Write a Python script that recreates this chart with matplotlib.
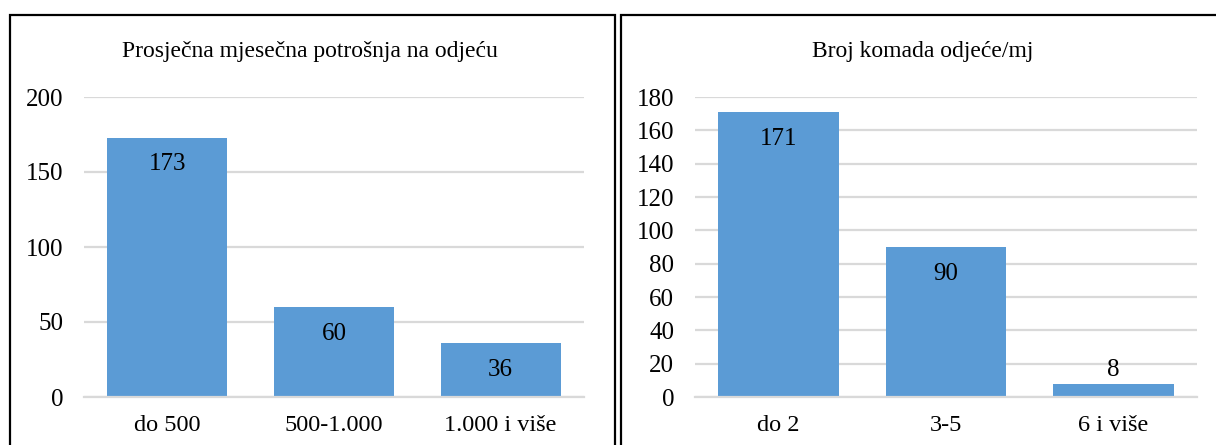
import matplotlib
matplotlib.use("Agg")
import numpy as np
from matplotlib import pyplot as plt
from matplotlib.patches import Rectangle

# left chart: average monthly spending on clothes
spend_categories = ["do 500", "500-1.000", "1.000 i više"]
spend_values = [173, 60, 36]
spend_title = "Prosječna mjesečna potrošnja na odjeću"
spend_yticks = [0, 50, 100, 150, 200]

# right chart: pieces of clothing per month
pieces_categories = ["do 2", "3-5", "6 i više"]
pieces_values = [171, 90, 8]
pieces_title = "Broj komada odjeće/mj"
pieces_yticks = [0, 20, 40, 60, 80, 100, 120, 140, 160, 180]

BAR_COLOR = "#5B9BD5"
GRID_COLOR = "#D9D9D9"
W, H = 1216, 445

plt.rcParams["font.family"] = ["Liberation Serif", "DejaVu Serif"]

fig = plt.figure(figsize=(W / 100, H / 100), dpi=100)

def px_axes(x0, x1, y_top, y_bottom):
    return fig.add_axes([x0 / W, 1 - y_bottom / H, (x1 - x0) / W, (y_bottom - y_top) / H])

def draw_panel(ax, categories, values, title, yticks, title_x, inside_min):
    x = np.arange(len(categories))
    ax.bar(x, values, width=0.72, color=BAR_COLOR, zorder=2)
    ax.set_xlim(-0.5, len(categories) - 0.5)
    ax.set_ylim(yticks[0], yticks[-1])
    ax.set_yticks(yticks)
    ax.set_xticks(x)
    ax.set_xticklabels(categories)
    ax.tick_params(axis="both", length=0, labelsize=18, colors="black")
    ax.tick_params(axis="x", pad=13, labelsize=17.5)
    ax.tick_params(axis="y", pad=15)
    ax.grid(axis="y", color=GRID_COLOR, linewidth=1.6, zorder=0)
    ax.set_axisbelow(True)
    for side in ["top", "right", "left"]:
        ax.spines[side].set_visible(False)
    ax.spines["bottom"].set_color(GRID_COLOR)
    ax.spines["bottom"].set_linewidth(1.6)
    for xi, v in zip(x, values):
        if v >= inside_min:
            ax.annotate(str(v), (xi, v), xytext=(0, -27), textcoords="offset pixels",
                        ha="center", va="center", fontsize=18)
        else:
            ax.annotate(str(v), (xi, v), xytext=(0, 14), textcoords="offset pixels",
                        ha="center", va="center", fontsize=18)
    fig.text(title_x / W, 1 - 51 / H, title, ha="center", va="center", fontsize=17)

ax_left = px_axes(84, 584, 97, 397)
draw_panel(ax_left, spend_categories, spend_values, spend_title, spend_yticks, 310, 20)

ax_right = px_axes(695, 1197, 97, 397)
draw_panel(ax_right, pieces_categories, pieces_values, pieces_title, pieces_yticks, 923, 20)

# black frames around each chart, cut off at the bottom of the image
for x0, x1 in [(10, 615), (621, 1230)]:
    fig.add_artist(Rectangle((x0 / W, -0.1), (x1 - x0) / W, 1.1 - 15 / H,
                             transform=fig.transFigure, fill=False,
                             edgecolor="black", linewidth=1.6, clip_on=False))

plt.savefig("out.png", dpi=100)
